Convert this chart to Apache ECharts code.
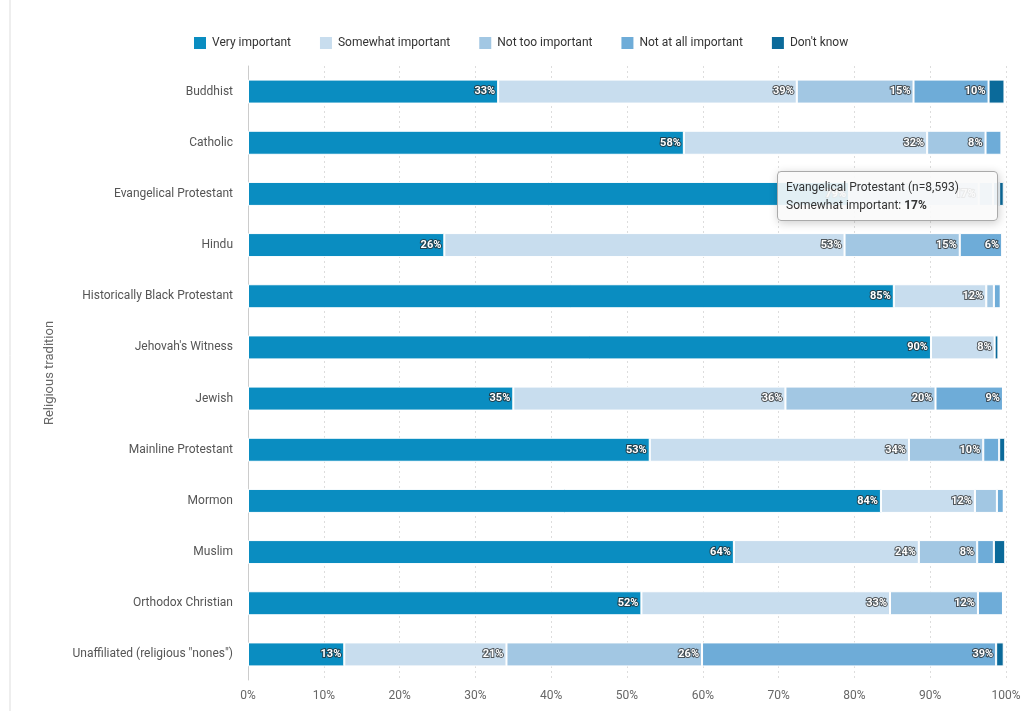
<!DOCTYPE html>
<html lang="en">
<head>
    <meta charset="UTF-8">
    <script src="https://cdn.jsdelivr.net/npm/echarts@6/dist/echarts.min.js"></script>
    <title>Importance of religion by religious tradition</title>
    <style>
        html, body { margin: 0; padding: 0; background: #ffffff; }
        #chart { width: 1024px; height: 711px; }
    </style>
</head>
<body>
    <div id="chart"></div>
    <script>
        var chart = echarts.init(document.getElementById('chart'));

        var traditions = ['Buddhist', 'Catholic', 'Evangelical Protestant', 'Hindu', 'Historically Black Protestant',
            "Jehovah's Witness", 'Jewish', 'Mainline Protestant', 'Mormon', 'Muslim', 'Orthodox Christian',
            'Unaffiliated (religious "nones")'];
        var sampleSizes = [null, null, 8593, null, null, null, null, null, null, null, null, null];

        var veryImportant     = [33.0, 57.5, 79.3, 25.9, 85.2, 90.1, 35.0, 53.0, 83.5, 64.1, 51.9, 12.7];
        var somewhatImportant = [39.4, 32.1, 17.1, 52.8, 12.2, 8.4, 35.9, 34.2, 12.4, 24.4, 32.8, 21.4];
        var notTooImportant   = [15.4, 7.7, 1.9, 15.2, 1.0, 0, 19.8, 9.8, 2.9, 7.7, 11.6, 25.8];
        var notAtAll          = [9.9, 2.1, 0.8, 5.6, 0.9, 0, 8.9, 2.1, 0.9, 2.2, 3.3, 38.8];
        var dontKnow          = [2.1, 0, 0.6, 0, 0, 0.5, 0, 0.8, 0, 1.5, 0, 1.0];

        var seriesNames = ['Very important', 'Somewhat important', 'Not too important', 'Not at all important', "Don't know"];
        var seriesColors = ['#0a8dc1', '#c8ddee', '#a2c7e3', '#6eacd8', '#0b6a9a'];
        var xTicks = [0, 10, 20, 30, 40, 50, 60, 70, 80, 90, 100];

        var allData = [veryImportant, somewhatImportant, notTooImportant, notAtAll, dontKnow];

        var series = allData.map(function (d, i) {
            return {
                name: seriesNames[i],
                type: 'bar',
                stack: 'total',
                barWidth: 24,
                data: d,
                itemStyle: { color: seriesColors[i], borderColor: '#ffffff', borderWidth: 1 },
                emphasis: { disabled: true },
                label: {
                    show: true,
                    position: 'insideRight',
                    distance: 3,
                    color: '#ffffff',
                    fontWeight: 'bold',
                    fontSize: 11,
                    fontFamily: 'Roboto',
                    textBorderColor: 'rgba(40,40,40,0.75)',
                    textBorderWidth: 2,
                    formatter: function (p) { return p.value >= 5 ? Math.round(p.value) + '%' : ''; }
                }
            };
        });

        var option = {
            backgroundColor: '#ffffff',
            animation: false,
            textStyle: { fontFamily: 'Roboto' },
            legend: {
                top: 30,
                left: 187,
                itemWidth: 14,
                itemHeight: 14,
                itemGap: 27,
                icon: 'rect',
                textStyle: { color: '#333', fontSize: 12 },
                data: seriesNames
            },
            tooltip: {
                trigger: 'item',
                alwaysShowContent: true,
                backgroundColor: 'rgba(250,250,250,0.9)',
                borderColor: '#aaaaaa',
                borderWidth: 1,
                padding: [6, 38, 6, 8],
                textStyle: { color: '#333', fontSize: 12, fontFamily: 'Roboto' },
                position: function () { return [777, 171]; },
                formatter: function (p) {
                    var n = sampleSizes[p.dataIndex];
                    var head = p.name + (n ? ' (n=' + n.toLocaleString('en-US') + ')' : '');
                    return head + '<br>' + p.seriesName + ': <b>' + Math.round(p.value) + '%</b>';
                }
            },
            graphic: [{
                type: 'line',
                shape: { x1: 10, y1: 0, x2: 10, y2: 711 },
                style: { stroke: '#dddddd', lineWidth: 1 }
            }],
            grid: { left: 248, right: 18, top: 66, bottom: 31 },
            xAxis: {
                type: 'value',
                min: 0,
                max: 100,
                interval: 10,
                axisLine: { show: false },
                axisTick: { show: false },
                axisLabel: {
                    color: '#666',
                    fontSize: 12,
                    margin: 10,
                    formatter: function (v) { return xTicks.indexOf(v) >= 0 ? v + '%' : ''; }
                },
                splitLine: { show: true, lineStyle: { color: '#dddddd', type: [2, 3] } }
            },
            yAxis: {
                type: 'category',
                inverse: true,
                data: traditions,
                name: 'Religious tradition',
                nameLocation: 'middle',
                nameGap: 192,
                nameTextStyle: { color: '#666', fontSize: 13 },
                axisLine: { show: true, lineStyle: { color: '#cccccc' } },
                axisTick: { show: false },
                axisLabel: { color: '#555', fontSize: 12, margin: 15 }
            },
            series: series
        };

        chart.setOption(option);
        chart.dispatchAction({ type: 'showTip', seriesIndex: 1, dataIndex: 2 });
    </script>
</body>
</html>
